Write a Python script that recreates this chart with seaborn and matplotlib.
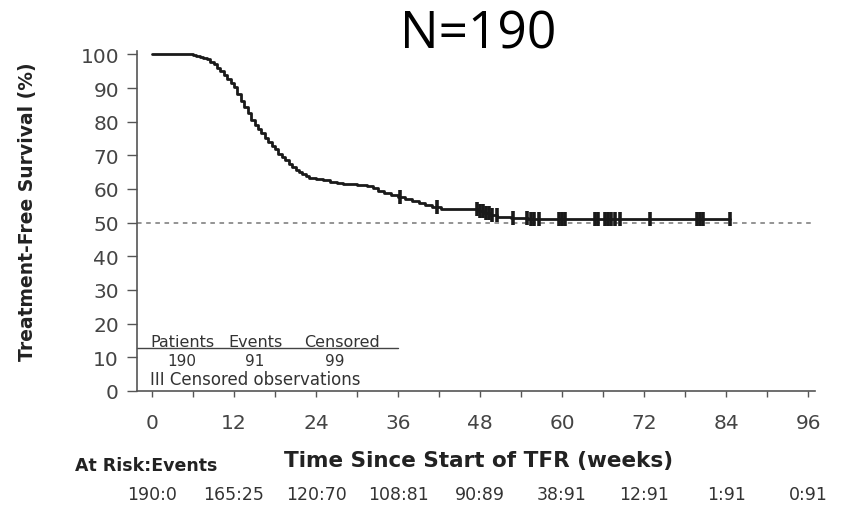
import numpy as np
import pandas as pd
import matplotlib
matplotlib.use("Agg")
import matplotlib.pyplot as plt
import seaborn as sns

# ---------------- data ----------------
event_weeks = [0, 6, 6.5, 7, 7.5, 8, 8.5, 9, 9.5, 10, 10.5, 11, 11.5, 12, 12.5,
               13, 13.5, 14, 14.5, 15, 15.5, 16, 16.5, 17, 17.5, 18, 18.5, 19,
               19.5, 20, 20.5, 21, 21.5, 22, 22.5, 23, 24, 25, 26, 27, 28, 30,
               31.5, 32.3, 33, 34, 35, 36, 37, 38, 39, 40, 41, 42.3, 47.8, 48.6,
               49.5, 50.5, 52.5, 55, 84.5]
survival_pct = [100, 99.8, 99.6, 99.3, 99, 98.5, 97.8, 97, 96, 95, 93.8, 92.6,
                91.5, 90.2, 88.3, 86, 84.3, 82.5, 80.5, 79, 77.8, 76.5, 75.2,
                74, 72.8, 71.8, 70.5, 69.5, 68.5, 67.5, 66.5, 65.6, 65, 64.4,
                63.9, 63.4, 63, 62.6, 62.2, 61.8, 61.4, 61.2, 61, 60.3, 59.5,
                58.8, 58.2, 57.6, 57, 56.4, 55.8, 55.3, 54.8, 54, 53.5, 52.8,
                52.2, 51.8, 51.4, 51, 51]
censor_weeks = [36.3, 41.7, 47.6, 48.0, 48.4, 48.8, 49.3, 49.8, 50.4, 52.8, 54.9,
                55.4, 55.9, 56.6, 59.6, 60.0, 60.4, 64.8, 65.3, 66.2, 66.7, 67.2,
                67.8, 68.5, 72.8, 79.8, 80.2, 80.6, 84.5]
x_ticks = [0, 12, 24, 36, 48, 60, 72, 84, 96]
y_ticks = [0, 10, 20, 30, 40, 50, 60, 70, 80, 90, 100]
at_risk_events = ["190:0", "165:25", "120:70", "108:81", "90:89", "38:91",
                  "12:91", "1:91", "0:91"]
table_headers = ["Patients", "Events", "Censored"]
table_values = ["190", "91", "99"]
title_text = "N=190"

# ---------------- figure ----------------
sns.set_theme(style="white")
plt.rcParams["font.family"] = ["DejaVu Sans"]

fig = plt.figure(figsize=(8.41, 5.10), dpi=100)
ax = fig.add_axes([0.1629, 0.2314, 0.8062, 0.6667])

curve = pd.DataFrame({"week": event_weeks, "surv": survival_pct})
sns.lineplot(data=curve, x="week", y="surv", drawstyle="steps-post",
             color="#1a1a1a", linewidth=2.0, ax=ax, estimator=None, sort=False)

idx = np.searchsorted(np.array(event_weeks), np.array(censor_weeks), side="right") - 1
cens = pd.DataFrame({"week": censor_weeks,
                     "surv": np.array(survival_pct)[idx]})
sns.scatterplot(data=cens, x="week", y="surv", marker="|", s=110,
                color="#1a1a1a", linewidth=2.6, ax=ax, zorder=5)

ax.axhline(50, color="#777777", linestyle=(0, (3, 3)), linewidth=1.1, zorder=1)

ax.set_xlim(-2.2, 97.0)
ax.set_ylim(0, 101)
ax.set_xticks(x_ticks)
ax.set_xticks(np.arange(6, 96, 12), minor=True)
ax.set_yticks(y_ticks)
ax.tick_params(axis="x", which="both", direction="out", length=4, width=1.0,
               color="#555555", pad=12, labelsize=14.5, labelcolor="#444444",
               bottom=True)
ax.tick_params(axis="y", direction="out", length=7, width=1.0,
               color="#555555", pad=6, labelsize=14.5, labelcolor="#444444",
               left=True)
for s in ["top", "right"]:
    ax.spines[s].set_visible(False)
for s in ["left", "bottom"]:
    ax.spines[s].set_color("#555555")
    ax.spines[s].set_linewidth(1.2)

ax.set_xlabel("Time Since Start of TFR (weeks)", fontsize=15.5,
              fontweight="bold", color="#222222")
ax.set_ylabel("Treatment-Free Survival (%)", fontsize=13.5,
              fontweight="bold", color="#222222")
ax.xaxis.set_label_coords(0.504, -0.175)
ax.yaxis.set_label_coords(-0.1475, 0.53)

# in-plot summary table
hdr_x = [4.4, 15.1, 27.8]
for xx, h in zip(hdr_x, table_headers):
    ax.text(xx, 14.8, h, ha="center", va="center", fontsize=11.5, color="#333333")
val_x = [4.4, 15.0, 26.7]
for xx, v in zip(val_x, table_values):
    ax.text(xx, 9.0, v, ha="center", va="center", fontsize=11, color="#333333")
ax.plot([-2.2, 36.0], [12.8, 12.8], color="#444444", linewidth=1.0, clip_on=False)
ax.text(-0.3, 3.6, "III Censored observations", ha="left", va="center",
        fontsize=12, color="#333333")

# at-risk table
trans = ax.get_xaxis_transform()
ax.text(-11.3, -0.218, "At Risk:Events", transform=trans, ha="left",
        va="center", fontsize=12.5, fontweight="bold", color="#222222")
for xx, s in zip(x_ticks, at_risk_events):
    ax.text(xx, -0.303, s, transform=trans, ha="center", va="center",
            fontsize=12.5, color="#333333")

fig.text(478 / 841, 1 - 35 / 510, title_text, ha="center", va="center",
         fontsize=37, color="black", family=["Open Sans", "DejaVu Sans"])

fig.savefig("out.png", dpi=100)
